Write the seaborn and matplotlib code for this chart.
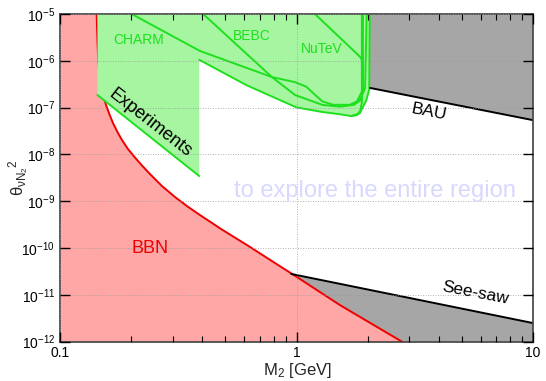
import matplotlib
matplotlib.use("Agg")
import matplotlib.pyplot as plt
import seaborn as sns
from matplotlib.ticker import LogLocator, NullLocator

# Big Bang Nucleosynthesis bound (excluded below/left of the curve)
bbn_mass = [0.1429, 0.1440, 0.1452, 0.1469, 0.1491, 0.1527, 0.1565, 0.1619,
            0.1675, 0.1750, 0.1829, 0.1939, 0.2075, 0.2222, 0.2402, 0.2700,
            0.3064, 0.3443, 0.3908, 0.4842, 0.6175, 0.7877, 1.005, 1.527, 2.793]
bbn_theta2 = [1e-5, 2.78e-6, 9.42e-7, 5.22e-7, 3.04e-7, 1.77e-7, 1.14e-7,
              7.13e-8, 4.69e-8, 3.01e-8, 2.03e-8, 1.30e-8, 8.59e-9, 5.79e-9,
              3.81e-9, 2.11e-9, 1.23e-9, 7.89e-10, 5.07e-10, 2.48e-10,
              1.16e-10, 5.27e-11, 2.40e-11, 6.05e-12, 1.0e-12]

# Baryon asymmetry bound (excluded above the line)
bau_mass = [2.05, 10.0]
bau_theta2 = [2.63e-7, 5.4e-8]

# See-saw bound (excluded below the line)
seesaw_mass = [0.95, 10.0]
seesaw_theta2 = [2.8e-11, 2.5e-12]

# Combined direct-search exclusion (outer envelope)
exp_mass = [0.144, 0.144, 0.388, 0.388, 0.616, 1.0, 1.28, 1.53, 1.70, 1.85,
            1.97, 2.03, 2.04]
exp_theta2 = [1e-5, 1.86e-7, 3.45e-9, 1.05e-6, 3.0e-7, 1.01e-7, 8.1e-8, 7.2e-8,
              6.6e-8, 7.5e-8, 1.4e-7, 2.4e-7, 1e-5]

# Individual experiment contours
charm_mass = [0.201, 0.391, 0.787, 0.986, 1.10, 1.20, 1.29, 1.43, 1.68, 1.80,
              1.89, 1.89]
charm_theta2 = [1e-5, 1.62e-6, 4.5e-7, 3.5e-7, 2.8e-7, 1.86e-7, 1.35e-7,
                1.15e-7, 1.15e-7, 1.35e-7, 2.2e-7, 1e-5]
bebc_mass = [0.403, 0.787, 0.986, 1.29, 1.53, 1.73, 1.85, 1.95, 1.98]
bebc_theta2 = [1e-5, 4.5e-7, 1.86e-7, 1.14e-7, 1.05e-7, 1.14e-7, 1.44e-7,
               2.6e-7, 1e-5]
nutev_mass = [1.197, 1.856, 1.91, 1.91, 1.87, 1.75]
nutev_theta2 = [1e-5, 1.22e-6, 9.6e-7, 2.2e-7, 1.45e-7, 1.15e-7]
envelope_mass = [0.388, 0.616, 1.0, 1.28, 1.53, 1.70, 1.80, 1.86, 1.89, 1.91, 1.91]
envelope_theta2 = [1.05e-6, 3.0e-7, 1.01e-7, 8.1e-8, 7.2e-8, 6.6e-8, 6.9e-8,
                   8.5e-8, 1.3e-7, 1e-6, 1e-5]
outer_mass = [1.70, 1.85, 1.97, 2.03, 2.04]
outer_theta2 = [6.6e-8, 7.5e-8, 1.4e-7, 2.4e-7, 1e-5]
ps_mass = [0.144, 0.388]
ps_theta2 = [1.86e-7, 3.45e-9]

x_min, x_max = 0.1, 10.0
y_min, y_max = 1e-12, 1e-5

sns.set_theme(style="ticks")
plt.rcParams["font.family"] = ["Liberation Sans", "DejaVu Sans"]
plt.rcParams["mathtext.fontset"] = "custom"
plt.rcParams["mathtext.rm"] = "Liberation Sans"
plt.rcParams["mathtext.it"] = "Liberation Sans"
plt.rcParams["mathtext.sf"] = "Liberation Sans"

fig = plt.figure(figsize=(5.46, 3.81), dpi=100)
ax = fig.add_axes([60 / 546, 1 - 341.7 / 381, 473 / 546, 327.7 / 381])
ax.set_xscale("log")
ax.set_yscale("log")

GREEN_FILL = "#a6f5a0"
GREEN_LINE = "#1ee01e"
RED_FILL = "#ffa6a6"
RED_LINE = "#ee0000"
GRAY = "#a6a6a6"

# grey regions: BAU (top right) and see-saw (bottom right)
ax.fill([1.95] + bau_mass + [x_max, 1.95],
        [2.77e-7] + bau_theta2 + [y_max, y_max], color=GRAY, lw=0, zorder=1)
ax.fill(seesaw_mass + [x_max, seesaw_mass[0]],
        seesaw_theta2 + [y_min, y_min], color=GRAY, lw=0, zorder=1)

# BBN region
ax.fill([x_min] + bbn_mass + [x_min], [y_max] + bbn_theta2 + [y_min],
        color=RED_FILL, lw=0, zorder=1.1)
sns.lineplot(x=bbn_mass, y=bbn_theta2, sort=False, estimator=None, ax=ax,
             color=RED_LINE, lw=1.4, zorder=1.2)

# experimental exclusion
ax.fill(exp_mass, exp_theta2, color=GREEN_FILL, lw=0, zorder=1.3)
for mx, ty in [(charm_mass, charm_theta2), (bebc_mass, bebc_theta2),
               (nutev_mass, nutev_theta2), (envelope_mass, envelope_theta2),
               (outer_mass, outer_theta2), (ps_mass, ps_theta2)]:
    sns.lineplot(x=mx, y=ty, sort=False, estimator=None, ax=ax,
                 color=GREEN_LINE, lw=1.4, zorder=1.4)

# black boundary lines
sns.lineplot(x=bau_mass, y=bau_theta2, sort=False, estimator=None, ax=ax,
             color="black", lw=1.4, zorder=1.5)
sns.lineplot(x=seesaw_mass, y=seesaw_theta2, sort=False, estimator=None, ax=ax,
             color="black", lw=1.4, zorder=1.5)

ax.set_xlim(x_min, x_max)
ax.set_ylim(y_min, y_max)

# ticks and grid
ax.xaxis.set_major_locator(LogLocator(base=10, numticks=10))
ax.xaxis.set_minor_locator(LogLocator(base=10, subs=range(2, 10), numticks=20))
ax.yaxis.set_major_locator(LogLocator(base=10, numticks=20))
ax.yaxis.set_minor_locator(NullLocator())
ax.xaxis.set_major_formatter(plt.FuncFormatter(lambda v, p: f"{v:g}"))
ax.tick_params(which="both", direction="in", top=True, right=True,
               colors="black", labelsize=10)
ax.tick_params(which="major", length=7, width=1)
ax.tick_params(which="minor", length=4, width=0.8)
ax.tick_params(axis="x", which="major", pad=3)
ax.set_axisbelow(False)
ax.grid(True, which="major", ls=(0, (1, 2)), color="#9a9a9a", lw=0.6)
for s in ax.spines.values():
    s.set_color("#404040")
    s.set_linewidth(1.2)

fig.text(297 / 546, 6 / 381, r"M$_2$ [GeV]", fontsize=12, ha="center",
         va="baseline")
fig.text(19 / 546, 1 - 178 / 381, r"$\theta_{\nu N_2}{}^2$", fontsize=12,
         rotation=90, ha="center", va="center")

# region labels
ax.text(0.214, 10 ** -5.56, "CHARM", color=GREEN_LINE, fontsize=10,
        ha="center", va="center", zorder=3)
ax.text(0.647, 10 ** -5.46, "BEBC", color=GREEN_LINE, fontsize=10,
        ha="center", va="center", zorder=3)
ax.text(1.278, 10 ** -5.75, "NuTeV", color=GREEN_LINE, fontsize=10,
        ha="center", va="center", zorder=3)
ax.text(0.240, 10 ** -7.33, "Experiments", color="black", fontsize=13,
        rotation=-38, ha="center", va="center", rotation_mode="anchor",
        zorder=3)
ax.text(0.240, 10 ** -10.0, "BBN", color=RED_LINE, fontsize=13,
        ha="center", va="center", zorder=3)
ax.text(3.64, 10 ** -7.09, "BAU", color="black", fontsize=12.5,
        rotation=-11, ha="center", va="center", rotation_mode="anchor",
        zorder=3)
ax.text(5.69, 10 ** -10.97, "See-saw", color="black", fontsize=12.5,
        rotation=-11, ha="center", va="center", rotation_mode="anchor",
        zorder=3)
ax.text(2.137, 10 ** -8.904, "to explore the entire region", color="#d8d8ff",
        fontsize=17, ha="center", va="baseline", zorder=3)

fig.savefig("out.png", dpi=100)
